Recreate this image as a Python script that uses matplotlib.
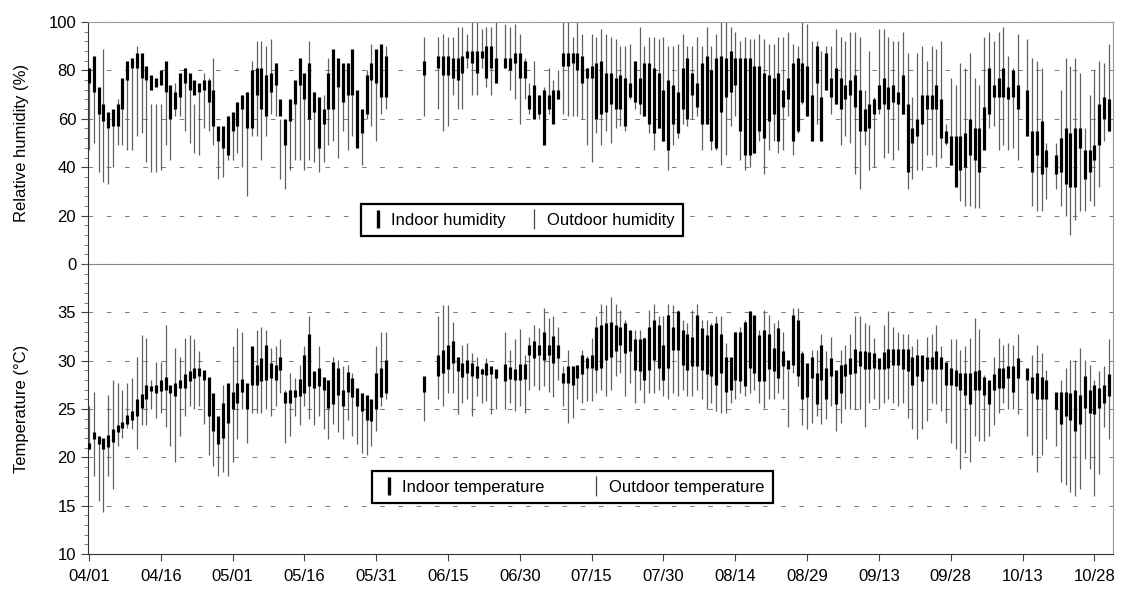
import numpy as np
import pandas as pd
import matplotlib
matplotlib.use("Agg")
import matplotlib.pyplot as plt
from matplotlib.lines import Line2D
from matplotlib.ticker import MultipleLocator

N = None  # no record that day

# daily ranges, one value per day from 04/01
hum_in_lo = [75, 71, 62, 59, 56, 57, 57, 64, 76, 81,
             81, 77, 76, 72, 73, 74, 71, 60, 64, 69,
             75, 72, 70, 71, 72, 67, 57, 51, 48, 45,
             55, 57, 64, 56, 56, 70, 64, 61, 71, 74,
             61, 49, 59, 66, 74, 68, 60, 63, 48, 58,
             64, 64, 73, 67, 70, 70, 48, 54, 62, 76,
             75, 69, 69, N, N, N, N, N, N, N,
             78, N, N, 81, 78, 78, 77, 76, 79, 85,
             83, 79, 85, 77, 81, 75, N, 81, 80, 83,
             77, 77, 64, 60, 62, 49, 64, 58, 68, 82,
             82, 83, 80, 75, 77, 77, 60, 62, 63, 66,
             64, 64, 57, 69, 67, 66, 61, 58, 54, 56,
             51, 47, 58, 54, 64, 60, 70, 65, 58, 58,
             51, 48, 63, 69, 71, 74, 55, 45, 45, 46,
             55, 52, 59, 62, 51, 65, 68, 51, 55, 67,
             61, 51, 75, 51, 72, 69, 66, 64, 68, 70,
             65, 55, 55, 56, 62, 64, 66, 64, 67, 66,
             62, 38, 50, 53, 58, 64, 64, 64, 52, 50,
             41, 32, 39, 40, 45, 43, 38, 47, 62, 69,
             69, 69, 68, 69, 64, N, 53, 38, 45, 37,
             40, N, 37, 38, 33, 32, 32, 48, 35, 38,
             43, 49, 60, 55]
hum_in_hi = [81, 86, 73, 66, 63, 64, 66, 77, 84, 85,
             87, 87, 82, 78, 77, 80, 84, 74, 71, 79,
             81, 79, 76, 75, 76, 76, 72, 57, 57, 61,
             63, 67, 70, 71, 80, 81, 81, 78, 79, 83,
             68, 60, 68, 76, 85, 79, 83, 71, 69, 64,
             79, 89, 85, 83, 83, 89, 72, 64, 78, 83,
             89, 91, 86, N, N, N, N, N, N, N,
             84, N, N, 86, 86, 86, 85, 85, 86, 88,
             88, 88, 88, 90, 90, 85, N, 85, 85, 87,
             87, 84, 70, 74, 70, 72, 70, 72, 72, 87,
             87, 87, 87, 86, 81, 82, 83, 84, 79, 79,
             77, 78, 77, 75, 84, 77, 83, 83, 81, 79,
             72, 76, 74, 71, 81, 85, 79, 75, 83, 86,
             80, 85, 86, 85, 88, 85, 85, 85, 85, 82,
             82, 79, 78, 77, 79, 72, 77, 83, 85, 83,
             82, 70, 90, 69, 87, 77, 81, 77, 74, 76,
             78, 72, 64, 66, 68, 74, 77, 73, 74, 71,
             78, 66, 56, 60, 70, 70, 70, 74, 68, 55,
             53, 53, 53, 54, 60, 56, 56, 65, 81, 74,
             77, 81, 73, 80, 74, N, 72, 55, 55, 59,
             47, N, 45, 52, 56, 54, 56, 56, 47, 47,
             49, 66, 69, 68]
hum_out_lo = [47, 50, 38, 34, 33, 40, 49, 49, 47, 47,
              53, 54, 42, 38, 38, 39, 49, 43, 61, 61,
              55, 50, 46, 45, 56, 55, 49, 35, 36, 43,
              43, 46, 40, 28, 53, 53, 43, 53, 62, 61,
              35, 31, 39, 43, 43, 39, 43, 42, 38, 42,
              49, 51, 44, 55, 47, 53, 50, 41, 60, 57,
              51, 62, 64, N, N, N, N, N, N, N,
              61, N, N, 64, 55, 57, 70, 64, 64, 81,
              70, 70, 81, 73, 70, 78, N, 81, 72, 68,
              58, 68, 62, 60, 60, 64, 62, 62, 68, 62,
              61, 61, 61, 60, 49, 42, 54, 49, 55, 50,
              56, 57, 55, 68, 64, 62, 61, 54, 47, 56,
              51, 39, 49, 52, 58, 57, 60, 61, 47, 58,
              47, 47, 41, 45, 57, 61, 43, 39, 40, 46,
              51, 37, 47, 51, 46, 47, 61, 45, 54, 66,
              61, 51, 58, 51, 72, 62, 66, 49, 53, 50,
              37, 31, 49, 39, 40, 62, 44, 46, 43, 47,
              62, 31, 35, 39, 39, 45, 45, 40, 44, 49,
              41, 42, 26, 24, 24, 23, 23, 53, 56, 57,
              47, 49, 47, 48, 43, N, 53, 24, 22, 22,
              27, N, 31, 24, 20, 12, 18, 22, 22, 26,
              24, 32, 51, 55]
hum_out_hi = [77, 72, 69, 89, 56, 62, 68, 65, 79, 81,
              90, 77, 76, 66, 66, 66, 71, 66, 75, 78,
              81, 72, 66, 71, 79, 77, 85, 51, 49, 61,
              55, 67, 70, 71, 84, 92, 92, 90, 93, 83,
              60, 50, 66, 66, 75, 68, 92, 71, 66, 70,
              85, 70, 73, 70, 83, 70, 70, 54, 80, 91,
              84, 90, 90, N, N, N, N, N, N, N,
              94, N, N, 94, 95, 94, 94, 98, 98, 95,
              100, 100, 97, 98, 98, 100, N, 99, 98, 99,
              95, 85, 75, 84, 70, 73, 81, 76, 80, 100,
              100, 94, 100, 95, 81, 95, 94, 97, 95, 94,
              93, 90, 90, 91, 84, 98, 90, 94, 94, 93,
              94, 90, 90, 91, 95, 90, 90, 94, 90, 98,
              90, 95, 100, 100, 98, 96, 92, 94, 93, 93,
              95, 93, 91, 91, 94, 94, 96, 91, 90, 100,
              99, 92, 92, 88, 90, 90, 97, 94, 92, 96,
              96, 94, 72, 88, 69, 97, 97, 94, 92, 92,
              96, 87, 69, 87, 90, 84, 90, 89, 92, 58,
              77, 74, 83, 81, 87, 77, 74, 94, 96, 92,
              96, 98, 86, 81, 95, N, 93, 85, 84, 81,
              50, N, 50, 72, 85, 82, 85, 79, 56, 70,
              80, 84, 83, 91]

tem_in_lo = [20.9, 21.9, 21.4, 20.9, 21.1, 21.6, 22.6, 23.0, 23.4, 23.9,
             24.3, 25.1, 26.0, 26.9, 26.7, 26.9, 27.0, 26.7, 26.3, 27.2,
             27.2, 27.9, 28.2, 28.4, 28.0, 24.3, 22.7, 21.4, 22.0, 23.6,
             25.0, 25.6, 26.8, 25.0, 27.5, 27.5, 27.9, 28.0, 28.2, 28.0,
             29.0, 25.6, 25.6, 26.2, 26.3, 26.7, 27.4, 27.2, 27.4, 27.0,
             25.1, 25.5, 26.5, 25.3, 26.8, 26.2, 25.3, 24.8, 23.9, 23.8,
             25.0, 26.2, 26.7, N, N, N, N, N, N, N,
             26.8, N, N, 28.4, 28.7, 29.1, 29.8, 28.9, 28.3, 28.7,
             28.4, 28.2, 28.6, 28.5, 28.6, 28.2, N, 27.9, 28.1, 28.0,
             28.0, 28.1, 30.6, 30.3, 30.6, 30.1, 30.6, 29.8, 30.3, 27.7,
             27.7, 27.5, 28.2, 28.6, 29.2, 29.2, 29.0, 29.2, 30.1, 30.4,
             31.0, 31.6, 30.8, 31.0, 29.0, 28.9, 28.0, 29.0, 30.1, 29.2,
             28.0, 29.2, 31.1, 31.1, 29.6, 29.0, 29.4, 29.4, 29.0, 28.6,
             28.4, 27.5, 28.7, 26.8, 27.0, 28.0, 27.9, 27.4, 29.2, 28.7,
             27.9, 27.9, 29.1, 28.9, 28.2, 29.4, 29.1, 29.6, 28.4, 26.0,
             26.2, 28.2, 25.5, 28.0, 26.0, 28.4, 25.5, 26.7, 28.4, 28.6,
             28.7, 29.4, 29.1, 29.1, 29.2, 29.1, 29.1, 29.2, 29.6, 29.6,
             29.1, 28.9, 27.5, 28.4, 27.9, 29.1, 29.1, 29.1, 29.1, 27.5,
             27.5, 27.4, 27.0, 26.5, 25.5, 27.0, 27.0, 26.5, 25.5, 27.0,
             27.2, 27.2, 28.2, 26.8, 28.2, N, 28.0, 26.7, 26.0, 26.0,
             26.0, N, 25.0, 23.4, 24.3, 23.9, 22.7, 23.4, 25.1, 24.6,
             24.5, 25.1, 25.6, 26.3]
tem_in_hi = [21.5, 22.6, 22.2, 22.0, 22.3, 22.9, 23.3, 23.7, 24.4, 24.8,
             26.0, 26.6, 27.5, 27.4, 27.5, 28.0, 28.3, 27.5, 27.7, 28.0,
             28.6, 28.9, 29.2, 29.2, 29.0, 28.3, 26.7, 24.3, 25.6, 27.7,
             26.8, 27.7, 28.1, 27.7, 31.5, 29.6, 30.3, 31.6, 29.8, 29.6,
             30.4, 26.8, 27.0, 27.0, 28.1, 30.6, 32.8, 28.9, 29.2, 28.3,
             28.0, 29.9, 29.2, 27.0, 28.8, 28.2, 27.2, 26.7, 26.5, 26.0,
             28.7, 29.2, 30.1, N, N, N, N, N, N, N,
             28.4, N, N, 30.6, 31.1, 31.6, 32.0, 30.4, 29.8, 30.1,
             29.8, 29.5, 29.1, 29.8, 29.5, 29.1, N, 29.7, 29.3, 29.1,
             29.7, 29.7, 31.6, 32.0, 31.6, 33.0, 31.6, 32.6, 31.6, 28.7,
             29.5, 29.5, 29.6, 30.6, 30.3, 30.6, 33.5, 33.7, 33.9, 34.0,
             33.7, 33.5, 33.9, 33.2, 32.2, 32.2, 32.3, 33.5, 34.2, 33.7,
             31.6, 34.7, 33.5, 35.1, 33.2, 32.8, 32.5, 34.7, 33.4, 32.7,
             33.7, 33.9, 32.8, 30.4, 30.4, 33.0, 33.0, 34.0, 35.1, 34.7,
             32.7, 33.2, 32.8, 31.3, 33.4, 31.0, 30.1, 34.7, 34.2, 30.8,
             29.8, 30.4, 28.7, 31.6, 29.2, 30.3, 29.0, 29.6, 29.7, 30.3,
             31.2, 31.0, 31.0, 30.9, 30.8, 30.3, 30.9, 31.2, 31.2, 31.2,
             31.2, 31.2, 30.4, 30.6, 30.6, 30.4, 30.4, 31.0, 30.4, 29.9,
             29.2, 29.0, 28.7, 28.7, 28.7, 28.9, 29.0, 28.3, 28.0, 28.6,
             29.2, 29.2, 29.4, 29.5, 30.3, N, 29.2, 28.3, 28.7, 28.3,
             28.0, N, 26.8, 26.8, 26.8, 26.7, 27.0, 26.5, 28.4, 27.0,
             27.5, 27.2, 27.5, 28.6]
tem_out_lo = [20.9, 18.1, 15.5, 14.3, 18.1, 16.7, 21.2, 22.0, 23.0, 22.9,
              20.9, 23.3, 23.3, 25.0, 24.1, 24.6, 23.1, 21.2, 19.5, 22.2,
              24.3, 25.3, 25.0, 25.3, 23.4, 20.2, 19.1, 18.1, 18.5, 18.1,
              19.5, 21.9, 25.0, 21.5, 24.6, 24.6, 24.6, 25.0, 24.3, 25.3,
              26.7, 21.5, 22.2, 24.3, 23.3, 25.3, 24.0, 23.3, 24.3, 22.9,
              21.9, 23.4, 22.6, 21.9, 23.9, 22.2, 21.4, 20.5, 20.2, 21.2,
              22.7, 25.3, 26.0, N, N, N, N, N, N, N,
              23.8, N, N, 26.0, 25.3, 26.7, 26.7, 24.5, 25.6, 26.0,
              24.3, 26.3, 25.6, 25.8, 24.5, 25.0, N, 25.0, 25.6, 24.8,
              25.3, 24.6, 27.0, 27.4, 27.0, 27.4, 26.8, 26.2, 28.0, 25.3,
              23.6, 24.1, 26.0, 25.6, 25.8, 25.8, 26.7, 27.0, 26.3, 27.0,
              28.4, 28.7, 26.3, 27.7, 25.6, 27.0, 25.6, 26.7, 26.7, 27.0,
              26.3, 26.0, 26.7, 26.3, 27.0, 26.3, 26.3, 27.0, 26.0, 25.0,
              25.6, 24.8, 24.6, 24.6, 25.6, 26.0, 26.7, 26.3, 26.7, 27.0,
              25.6, 25.1, 26.0, 26.0, 26.7, 26.0, 23.1, 28.7, 27.4, 23.3,
              22.9, 23.6, 24.3, 23.4, 24.0, 25.3, 22.7, 23.6, 25.0, 25.0,
              25.0, 25.0, 23.1, 25.6, 26.0, 25.0, 25.6, 26.0, 25.6, 25.3,
              25.6, 24.1, 22.9, 21.9, 22.9, 23.8, 25.6, 25.5, 24.8, 23.6,
              21.5, 20.9, 18.8, 20.5, 19.5, 22.2, 21.7, 21.7, 22.2, 23.3,
              24.6, 25.6, 25.0, 25.0, 24.5, N, 22.2, 20.2, 18.5, 20.2,
              21.9, N, 21.2, 17.4, 17.1, 16.4, 16.0, 16.7, 19.8, 18.8,
              16.0, 18.3, 23.1, 21.9]
tem_out_hi = [25.3, 26.8, 21.5, 21.8, 26.5, 28.0, 27.7, 27.0, 27.7, 28.2,
              30.4, 32.7, 32.3, 28.0, 29.9, 29.9, 33.7, 27.0, 31.3, 30.4,
              32.3, 32.7, 32.2, 31.0, 28.0, 25.0, 25.0, 22.0, 27.5, 24.0,
              31.5, 33.4, 33.0, 26.0, 28.0, 33.2, 33.5, 33.2, 31.3, 31.5,
              32.2, 27.0, 28.7, 28.2, 29.6, 31.5, 34.6, 28.0, 31.5, 27.5,
              27.0, 30.4, 30.1, 29.4, 29.6, 28.7, 27.0, 26.5, 24.0, 24.0,
              31.5, 33.0, 33.0, N, N, N, N, N, N, N,
              27.0, N, N, 34.6, 35.8, 35.8, 34.0, 30.4, 31.6, 31.8,
              30.8, 30.4, 29.2, 30.3, 29.0, 28.5, N, 33.0, 31.1, 32.2,
              33.3, 30.6, 32.5, 33.7, 33.4, 35.4, 34.4, 34.6, 33.5, 29.4,
              31.1, 28.6, 29.6, 31.1, 30.5, 32.3, 34.6, 35.9, 35.8, 36.6,
              35.9, 35.2, 34.2, 33.0, 33.2, 33.2, 32.5, 35.2, 35.9, 34.6,
              34.6, 35.9, 35.8, 35.2, 34.2, 33.9, 35.2, 35.9, 34.2, 34.2,
              33.9, 34.6, 34.6, 31.8, 29.0, 33.0, 33.5, 34.2, 35.1, 33.2,
              33.2, 35.2, 34.7, 33.9, 34.2, 33.0, 29.0, 35.4, 35.4, 31.0,
              28.0, 31.1, 31.1, 32.8, 31.0, 32.5, 28.0, 31.1, 31.6, 32.8,
              34.6, 34.6, 33.9, 33.7, 32.3, 29.8, 33.7, 35.1, 33.5, 33.0,
              32.8, 32.8, 31.5, 32.2, 30.4, 32.5, 32.8, 33.7, 31.5, 28.0,
              32.2, 32.2, 31.1, 31.5, 32.3, 34.4, 33.3, 28.5, 27.5, 30.4,
              32.3, 31.6, 31.8, 31.6, 32.8, N, 28.0, 30.6, 31.6, 30.8,
              29.0, N, 26.3, 28.0, 29.2, 30.1, 30.1, 31.3, 30.1, 29.6,
              28.0, 28.9, 29.4, 32.2]

first_day = "2000-04-01"
tick_labels = ["04/01", "04/16", "05/01", "05/16", "05/31", "06/15", "06/30",
               "07/15", "07/30", "08/14", "08/29", "09/13", "09/28", "10/13", "10/28"]

plt.rcParams['font.family'] = ['Liberation Sans', 'DejaVu Sans']
plt.rcParams['font.size'] = 12


def arr(values):
    return np.array([np.nan if v is None else v for v in values], dtype=float)


def draw_ranges(ax, out_lo, out_hi, in_lo, in_hi):
    out_lo, out_hi, in_lo, in_hi = arr(out_lo), arr(out_hi), arr(in_lo), arr(in_hi)
    days = np.arange(len(in_lo))
    ok = np.isfinite(in_lo)
    ax.vlines(days[ok], out_lo[ok], out_hi[ok], color='#606060', lw=0.9, zorder=2)
    ax.vlines(days[ok], in_lo[ok], in_hi[ok], color='black', lw=2.3, zorder=3)


def style_axes(ax):
    ax.set_axisbelow(True)
    ax.grid(axis='y', color='#808080', lw=0.75, linestyle=(0, (4.5, 13)))
    ax.tick_params(axis='y', which='major', direction='out', length=5, color='#444444')
    ax.tick_params(axis='y', which='minor', direction='out', length=3, color='#666666')
    ax.spines['left'].set_color('#333333')
    ax.spines['right'].set_color('#999999')
    ax.spines['top'].set_color('#999999')
    ax.spines['bottom'].set_color('#888888')


fig = plt.figure(figsize=(11.27, 6.01), dpi=100)
ax1 = fig.add_axes([0.0781, 0.5607, 0.9095, 0.4027])
ax2 = fig.add_axes([0.0781, 0.0782, 0.9095, 0.4825], sharex=ax1)
ax2.patch.set_visible(False)

draw_ranges(ax1, hum_out_lo, hum_out_hi, hum_in_lo, hum_in_hi)
draw_ranges(ax2, tem_out_lo, tem_out_hi, tem_in_lo, tem_in_hi)

for ax in (ax1, ax2):
    style_axes(ax)

ax1.set_ylim(0, 100)
ax1.yaxis.set_major_locator(MultipleLocator(20))
ax1.yaxis.set_minor_locator(MultipleLocator(4))
ax1.tick_params(axis='x', which='both', bottom=False, labelbottom=False)
ax1.set_ylabel("Relative humidity (%)")
ax1.yaxis.set_label_coords(-0.058, 0.5)

ax2.set_ylim(10, 40)
ax2.yaxis.set_major_locator(MultipleLocator(5))
ax2.yaxis.set_minor_locator(MultipleLocator(1))
ax2.set_yticks([10, 15, 20, 25, 30, 35])
ax2.spines['top'].set_visible(False)
ax2.spines['bottom'].set_color('#333333')
ax2.set_ylabel("Temperature (°C)")
ax2.yaxis.set_label_coords(-0.058, 0.5)

start = pd.Timestamp(first_day)
tick_pos = [(pd.Timestamp("2000/" + t) - start).days for t in tick_labels]
ax2.set_xticks(tick_pos)
ax2.set_xticklabels(tick_labels)
ax2.tick_params(axis='x', direction='out', length=5, color='#444444', pad=6)
ax2.set_xlim(-0.2, 213.9)

h_in = Line2D([], [], color='black', marker='|', markersize=13, markeredgewidth=2.4, linestyle='None')
h_out = Line2D([], [], color='#444444', marker='|', markersize=14, markeredgewidth=0.9, linestyle='None')

leg1 = ax1.legend([h_in, h_out], ["Indoor humidity", "Outdoor humidity"], ncol=2,
                  loc='lower left', bbox_to_anchor=(0.2663, 0.1157), fancybox=False,
                  edgecolor='black', framealpha=1, borderpad=0.5, handlelength=1.0,
                  handletextpad=0.3, columnspacing=1.2, borderaxespad=0)
leg1.get_frame().set_linewidth(1.6)

leg2 = ax2.legend([h_in, h_out], ["Indoor temperature", "Outdoor temperature"], ncol=2,
                  loc='lower left', bbox_to_anchor=(0.277, 0.176), fancybox=False,
                  edgecolor='black', framealpha=1, borderpad=0.5, handlelength=1.0,
                  handletextpad=0.3, columnspacing=2.6, borderaxespad=0)
leg2.get_frame().set_linewidth(1.6)

fig.savefig("out.png", dpi=100)
